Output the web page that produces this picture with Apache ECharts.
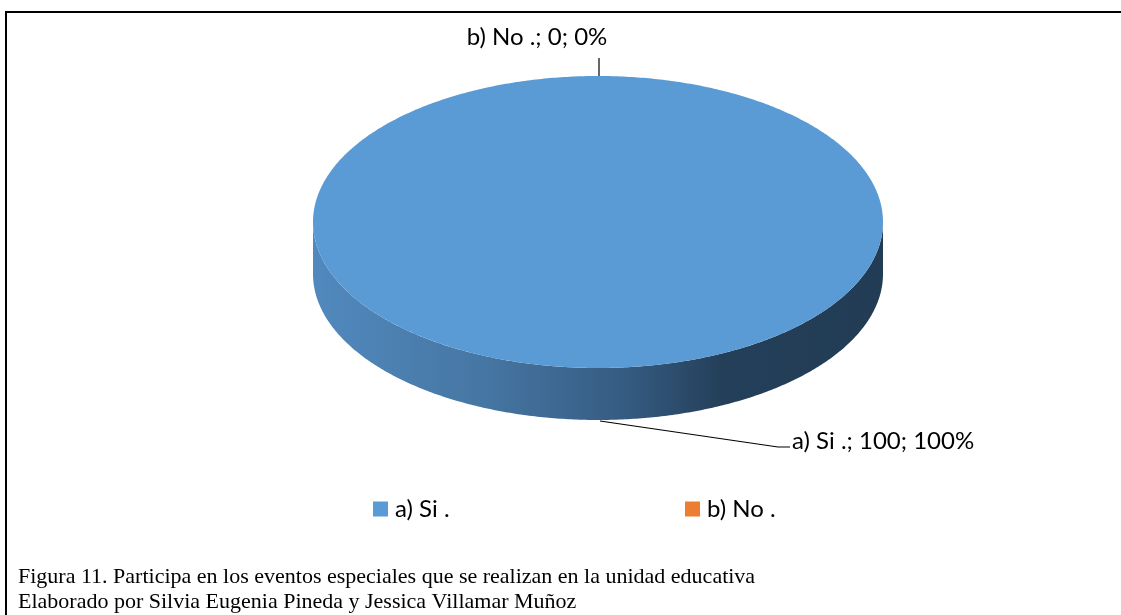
<!DOCTYPE html>
<html>
<head>
<meta charset="utf-8">
<script src="https://cdn.jsdelivr.net/npm/echarts@6/dist/echarts.min.js"></script>
<style>
  html, body { margin: 0; padding: 0; background: #fff; }
  #container { width: 1121px; height: 615px; }
</style>
</head>
<body>
<div id="container"></div>
<script>
// datos del grafico
var categories = ["a) Si .", "b) No ."];
var values = [100, 0];
var colors = ["#5b9bd5", "#ed7d31"];
var captionLines = [
  "Figura 11. Participa en los eventos especiales que se realizan en la unidad educativa",
  "Elaborado por Silvia Eugenia Pineda y Jessica Villamar Muñoz"
];

// geometria del pastel 3D
var pie = { cx: 598, cy: 222, rx: 285, ry: 146, depth: 52 };
var total = values.reduce(function (a, b) { return a + b; }, 0);

function pt(theta, dy) {
  return [pie.cx + pie.rx * Math.sin(theta), pie.cy - pie.ry * Math.cos(theta) + (dy || 0)];
}

function arc(a, b, dy) {
  var pts = [];
  var n = Math.max(2, Math.ceil(Math.abs(b - a) / 0.01));
  for (var k = 0; k <= n; k++) {
    pts.push(pt(a + (b - a) * k / n, dy));
  }
  return pts;
}

function sliceAngles(i) {
  var before = 0;
  for (var k = 0; k < i; k++) before += values[k];
  var start = before / total * Math.PI * 2;
  var end = start + values[i] / total * Math.PI * 2;
  return [start, end];
}

function labelText(i) {
  return categories[i] + "; " + values[i] + "; " + Math.round(values[i] / total * 100) + "%";
}

function renderSlice(params, api) {
  var i = params.seriesIndex;
  var v = api.value(0);
  var ang = sliceAngles(i);
  var start = ang[0], end = ang[1];
  var children = [];

  if (v > 0) {
    // lado visible (frente)
    var a = Math.max(start, Math.PI / 2);
    var b = Math.min(end, Math.PI * 3 / 2);
    if (a < b) {
      var side = arc(a, b, 0).concat(arc(b, a, pie.depth));
      children.push({
        type: "polygon",
        shape: { points: side },
        style: {
          fill: new echarts.graphic.LinearGradient(0, 0, 1, 0, [
            { offset: 0, color: "#5189be" },
            { offset: 0.3, color: "#4676a3" },
            { offset: 0.55, color: "#355b81" },
            { offset: 0.72, color: "#243f59" },
            { offset: 1, color: "#223c55" }
          ])
        }
      });
    }
    // cara superior
    var top = arc(start, end, 0);
    if (end - start < Math.PI * 2 - 1e-6) top.push([pie.cx, pie.cy]);
    children.push({
      type: "polygon",
      shape: { points: top },
      style: { fill: colors[i] }
    });
  }

  // etiqueta con linea guia
  var mid = (start + end) / 2;
  var front = Math.cos(mid) < 0;
  var anchor = pt(mid, front ? pie.depth : 0);
  if (front) {
    children.push({
      type: "polyline",
      shape: { points: [[anchor[0] + 2, anchor[1] + 1], [anchor[0] + 180, anchor[1] + 27], [anchor[0] + 192, anchor[1] + 27]] },
      style: { stroke: "#000", lineWidth: 1.2, fill: null }
    });
    children.push({
      type: "text",
      style: {
        x: anchor[0] + 194, y: anchor[1] + 21,
        text: labelText(i),
        fill: "#000",
        font: '24px "Lato"',
        align: "left", verticalAlign: "middle"
      }
    });
  } else {
    children.push({
      type: "line",
      shape: { x1: anchor[0] + 1, y1: anchor[1] - 18, x2: anchor[0] + 1, y2: anchor[1] },
      style: { stroke: "#000", lineWidth: 1.2 }
    });
    children.push({
      type: "text",
      style: {
        x: anchor[0] - 61, y: anchor[1] - 39,
        text: labelText(i),
        fill: "#000",
        font: '24px "Lato"',
        align: "center", verticalAlign: "middle"
      }
    });
  }
  return { type: "group", children: children };
}

var chart = echarts.init(document.getElementById("container"));

var option = {
  animation: false,
  backgroundColor: "#fff",
  legend: [
    {
      data: [categories[0]], left: 368, top: 492,
      icon: "rect", itemWidth: 15, itemHeight: 15, itemGap: 6,
      textStyle: { fontFamily: "Lato", fontSize: 24, color: "#000", padding: [0, 0, 0, 2] }
    },
    {
      data: [categories[1]], left: 680, top: 492,
      icon: "rect", itemWidth: 15, itemHeight: 15, itemGap: 6,
      textStyle: { fontFamily: "Lato", fontSize: 24, color: "#000", padding: [0, 0, 0, 2] }
    }
  ],
  graphic: [
    {
      type: "rect",
      shape: { x: 6, y: 12, width: 1300, height: 800 },
      style: { fill: null, stroke: "#000", lineWidth: 2 }
    },
    {
      type: "text", left: 18, top: 566,
      style: { text: captionLines[0], font: '22px "Liberation Serif"', fill: "#000" }
    },
    {
      type: "text", left: 18, top: 591,
      style: { text: captionLines[1], font: '22px "Liberation Serif"', fill: "#000" }
    }
  ],
  series: categories.map(function (name, i) {
    return {
      type: "custom",
      name: name,
      coordinateSystem: "none",
      itemStyle: { color: colors[i] },
      data: [values[i]],
      renderItem: renderSlice
    };
  })
};

chart.setOption(option);
</script>
</body>
</html>
